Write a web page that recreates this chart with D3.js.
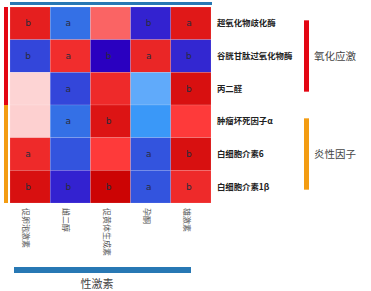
<!DOCTYPE html>
<html><head><meta charset="utf-8">
<script src="https://cdn.jsdelivr.net/npm/d3@7"></script>
<style>body{margin:0;background:#fff}svg{display:block}</style>
</head><body>
<script>
const hormones = ["促卵泡激素","雌二醇","促黄体生成素","孕酮","雄激素"];
const markers = ["超氧化物歧化酶","谷胱甘肽过氧化物酶","丙二醛","肿瘤坏死因子α","白细胞介素6","白细胞介素1β"];
const corr = [
  [0.85,-0.55,0.5,-0.85,0.88],
  [-0.7,0.78,-1.0,0.82,-0.83],
  [0.2,-0.7,0.8,-0.35,0.92],
  [0.21,-0.55,0.9,-0.45,0.7],
  [0.8,-0.65,0.7,-0.65,0.92],
  [0.92,-0.85,0.98,-0.65,0.8]
];
const sig = [
  ["b","a","","b","a"],
  ["b","a","b","a","b"],
  ["","a","","","b"],
  ["","a","b","",""],
  ["a","","","a","b"],
  ["b","b","b","a","b"]
];
const groups = [
  {name:"氧化应激", from:0, to:2, color:"#e30613"},
  {name:"炎性因子", from:3, to:5, color:"#f39c12"}
];
const topGroup = "性激素";

const W=371,H=291;
const svg=d3.select("body").append("svg").attr("width",W).attr("height",H);
const x=d3.scaleBand().domain(hormones).range([10,211]);
const y=d3.scaleBand().domain(markers).range([7,203]);
const color=d3.scaleLinear()
  .domain([-1,-0.85,-0.7,-0.55,-0.45,-0.35,0,0.2,0.5,0.7,0.8,0.9,1])
  .range(["#2a00c0","#3322d0","#3346da","#3470e6","#3a98f8","#60aafa","#ffffff","#fdd4d4","#fa6464","#fe3a3a","#ee2a2a","#dc1414","#c80000"])
  .clamp(true);

// top bar
svg.append("rect").attr("x",x.range()[0]).attr("y",2).attr("width",212-10).attr("height",3).attr("fill","#2878b4");

const cells=[];
markers.forEach((m,i)=>hormones.forEach((h,j)=>cells.push({m,h,v:corr[i][j],s:sig[i][j]})));
svg.selectAll("rect.cell").data(cells).join("rect").attr("class","cell")
  .attr("x",d=>x(d.h)).attr("y",d=>y(d.m)).attr("width",x.bandwidth()).attr("height",y.bandwidth())
  .attr("fill",d=>color(d.v)).attr("stroke","rgba(255,255,255,0.25)").attr("stroke-width",0.5);
svg.selectAll("text.sig").data(cells.filter(d=>d.s)).join("text").attr("class","sig")
  .attr("x",d=>x(d.h)+x.bandwidth()/2-2).attr("y",d=>y(d.m)+y.bandwidth()/2)
  .attr("dy","0.35em").attr("text-anchor","middle")
  .attr("font-family","DejaVu Sans, sans-serif").attr("font-size",9).attr("fill","#2a2a3a").text(d=>d.s);

// left group bars
svg.selectAll("rect.lg").data(groups).join("rect").attr("class","lg")
  .attr("x",4).attr("y",d=>y(markers[d.from])).attr("width",4)
  .attr("height",d=>y(markers[d.to])+y.bandwidth()-y(markers[d.from])).attr("fill",d=>d.color);

// right marker labels
svg.selectAll("text.ml").data(markers).join("text").attr("class","ml")
  .attr("x",217).attr("y",d=>y(d)+y.bandwidth()/2).attr("dy","0.35em")
  .attr("font-family","Noto Sans CJK SC, sans-serif").attr("font-size",8.4).attr("font-weight","bold")
  .attr("fill","#222").text(d=>d);

// right group bars + labels
svg.selectAll("rect.rg").data(groups).join("rect").attr("class","rg")
  .attr("x",304).attr("y",d=>y(markers[d.from])+y.bandwidth()/2-3)
  .attr("width",5).attr("height",d=>y(markers[d.to])-y(markers[d.from])+6).attr("fill",d=>d.color);
svg.selectAll("text.rgl").data(groups).join("text").attr("class","rgl")
  .attr("x",314).attr("y",d=>(y(markers[d.from])+y(markers[d.to])+y.bandwidth())/2).attr("dy","0.35em")
  .attr("font-family","Noto Sans CJK SC, sans-serif").attr("font-size",10.5)
  .attr("fill","#444").text(d=>d.name);

// bottom hormone labels (vertical)
svg.selectAll("text.hl").data(hormones).join("text").attr("class","hl")
  .attr("transform",d=>`translate(${x(d)+x.bandwidth()/2-4},208) rotate(90)`)
  .attr("dy","0.35em").attr("text-anchor","start")
  .attr("font-family","Noto Sans CJK SC, sans-serif").attr("font-size",8)
  .attr("fill","#555").text(d=>d);

// bottom group bar + label
svg.append("rect").attr("x",14).attr("y",267).attr("width",177).attr("height",6).attr("fill","#2878b4");
svg.append("text").attr("x",97).attr("y",284).attr("dy","0.35em").attr("text-anchor","middle")
  .attr("font-family","Noto Sans CJK SC, sans-serif").attr("font-size",11).attr("fill","#444").text(topGroup);
</script>
</body></html>
